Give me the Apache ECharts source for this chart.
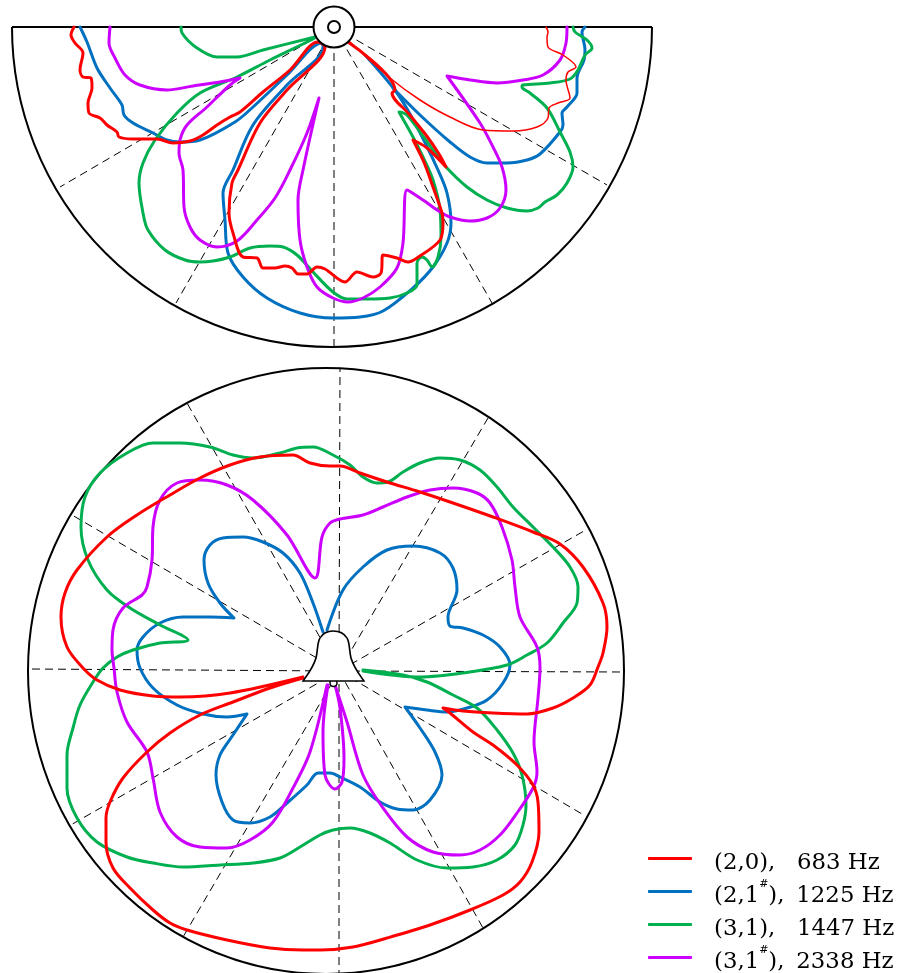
<!DOCTYPE html>
<html><head><meta charset="utf-8">
<style>html,body{margin:0;padding:0;background:#fff}#c{width:900px;height:973px}</style>
<script src="https://cdn.jsdelivr.net/npm/echarts@6/dist/echarts.min.js"></script>
</head><body><div id="c"></div>
<script>
// Pattern vectors as [across, down] components from each plot's origin
const top20 = [[-260,0],[-263,8],[-259,16],[-251,26],[-254,43],[-251,50],[-243,51],[-242,61],[-246,76],[-245,86],[-234,91],[-227,98],[-217,105],[-215,110],[-201,112],[-177,112],[-161,116],[-144,114],[-131,108],[-117,98],[-104,90],[-94,85],[-71,65],[-44,43],[-16,15],[-9,20],[-47,63],[-74,96],[-96,143],[-102,156],[-105,186],[-101,206],[-91,230],[-77,231],[-71,241],[-59,241],[-49,239],[-42,241],[-36,247],[-27,247],[-17,240],[-9,242],[11,255],[23,245],[39,250],[47,246],[49,228],[63,231],[74,235],[83,231],[106,213],[109,196],[108,186],[99,160],[93,143],[89,133],[79,113],[93,121],[112,140],[105,127],[92,108],[75,87],[58,66],[61,63],[14,15]];
const top20Thin = [[16,15],[56,51],[86,73],[116,90],[149,103],[179,104],[203,100],[214,91],[215,81],[224,76],[236,71],[232,53],[234,45],[242,40],[229,28],[214,20],[213,10],[214,5],[212,0]];
const top21 = [[-254,0],[-247,15],[-237,41],[-224,61],[-212,78],[-210,88],[-201,96],[-181,106],[-167,113],[-154,115],[-134,113],[-99,95],[-81,80],[-47,48],[-12,16],[-11,20],[-47,58],[-81,98],[-101,143],[-111,166],[-109,193],[-106,226],[-91,250],[-67,271],[-34,286],[-1,291],[26,290],[49,284],[79,261],[99,240],[113,216],[117,196],[113,166],[104,143],[83,100],[63,66],[31,28]];
const top21Right = [[59,61],[86,88],[116,115],[136,130],[153,136],[173,136],[193,133],[206,127],[226,105],[229,98],[228,86],[233,80],[243,66],[243,51],[250,33],[251,23],[248,5],[251,0]];
const top31 = [[-153,0],[-152,6],[-137,21],[-117,30],[-97,30],[-71,23],[-19,10],[-21,12],[-64,33],[-97,50],[-134,66],[-157,86],[-179,113],[-191,136],[-195,156],[-191,186],[-186,203],[-169,223],[-149,233],[-134,235],[-121,234],[-104,230],[-84,221],[-64,219],[-51,220],[-37,228],[-21,245],[-1,265],[13,272],[33,272],[56,271],[73,266],[83,258],[83,236],[88,230],[93,233],[98,240],[104,230],[107,210],[106,183],[99,153],[89,130],[79,110],[65,85],[73,88],[99,123],[113,141],[133,160],[153,173],[173,181],[193,184],[204,181],[211,175],[223,168],[233,156],[239,140],[236,125],[226,105],[213,81],[196,66],[188,60],[189,58],[216,56],[236,52],[244,43],[251,28],[258,21],[253,13],[241,5],[239,0]];
const top31s = [[-224,0],[-225,16],[-219,31],[-209,48],[-194,58],[-167,63],[-141,59],[-114,55],[-94,51],[-104,58],[-127,80],[-147,98],[-154,113],[-155,126],[-151,143],[-150,180],[-144,200],[-134,213],[-117,220],[-97,214],[-77,193],[-59,171],[-44,143],[-27,106],[-15,71],[-31,143],[-36,173],[-34,213],[-27,240],[-17,260],[-1,271],[14,275],[29,271],[46,260],[63,241],[69,216],[73,163],[89,173],[103,183],[116,190],[136,194],[153,191],[166,181],[172,163],[168,140],[159,120],[146,96],[113,49],[136,53],[163,56],[189,53],[209,48],[226,33],[232,16],[233,0]];
const bottom20 = [[-36,6],[-109,22],[-159,26],[-186,25],[-219,19],[-242,9],[-256,-3],[-272,-24],[-278,-54],[-274,-78],[-262,-101],[-232,-134],[-202,-156],[-169,-176],[-139,-193],[-109,-206],[-79,-214],[-46,-216],[-29,-208],[-9,-205],[1,-205],[21,-198],[48,-189],[81,-179],[114,-168],[154,-154],[194,-139],[221,-127],[244,-104],[264,-68],[268,-44],[264,-18],[259,-4],[251,14],[234,27],[214,37],[188,43],[154,42],[124,40],[104,37],[111,42],[134,61],[154,74],[178,94],[194,114],[199,131],[200,161],[193,191],[181,211],[164,224],[131,239],[91,254],[48,267],[14,276],[-19,279],[-36,279],[-69,277],[-112,269],[-152,259],[-169,252],[-186,239],[-209,217],[-226,197],[-233,171],[-233,147],[-229,131],[-216,107],[-192,81],[-169,62],[-139,44],[-106,31],[-69,17],[-36,7]];
const bottom21 = [[-16,-39],[-26,-68],[-39,-98],[-56,-118],[-76,-129],[-96,-134],[-116,-133],[-129,-126],[-135,-111],[-131,-88],[-119,-68],[-105,-53],[-129,-54],[-156,-54],[-179,-48],[-196,-34],[-202,-21],[-199,-3],[-186,17],[-162,34],[-136,43],[-112,46],[-92,43],[-106,64],[-119,84],[-123,104],[-117,131],[-106,149],[-89,152],[-69,146],[-52,132],[-32,114],[-21,102],[-9,102],[1,106],[21,116],[41,131],[58,138],[74,139],[91,129],[103,104],[96,81],[81,57],[66,36],[88,39],[108,41],[128,37],[148,29],[164,12],[171,-6],[161,-24],[144,-36],[124,-43],[111,-45],[109,-54],[118,-81],[114,-103],[101,-118],[74,-125],[48,-121],[24,-104],[4,-81],[-12,-41]];
const bottom31 = [[24,0],[81,6],[124,2],[168,-6],[188,-16],[208,-28],[224,-48],[238,-68],[239,-84],[231,-104],[214,-124],[194,-144],[174,-164],[158,-184],[141,-201],[121,-211],[101,-213],[81,-208],[64,-199],[49,-189],[38,-188],[24,-194],[11,-206],[-6,-216],[-26,-224],[-42,-223],[-59,-218],[-86,-213],[-106,-216],[-129,-224],[-159,-228],[-186,-228],[-212,-218],[-239,-198],[-254,-174],[-258,-144],[-251,-111],[-232,-81],[-209,-63],[-179,-46],[-151,-31],[-179,-28],[-206,-21],[-222,-14],[-236,-3],[-246,11],[-259,34],[-266,57],[-272,84],[-272,117],[-262,147],[-242,171],[-212,186],[-186,192],[-156,196],[-119,194],[-86,192],[-59,187],[-39,176],[-19,164],[-6,159],[11,157],[31,162],[51,172],[78,189],[108,197],[134,196],[158,189],[176,174],[184,154],[187,134],[183,104],[174,82],[158,59],[138,37],[114,24],[88,11],[64,4],[24,-1]];
const bottom31s = [[-11,14],[-16,61],[-14,104],[-4,118],[3,111],[5,87],[1,37],[-4,14],[8,51],[24,104],[44,137],[68,166],[94,181],[121,184],[141,179],[161,164],[178,142],[194,117],[198,101],[195,71],[199,27],[201,-3],[198,-24],[181,-54],[176,-84],[173,-111],[163,-144],[151,-168],[138,-178],[114,-183],[91,-181],[68,-174],[44,-164],[24,-156],[1,-152],[-9,-148],[-17,-134],[-24,-93],[-52,-136],[-86,-171],[-112,-186],[-139,-191],[-162,-188],[-179,-171],[-186,-144],[-187,-111],[-192,-84],[-197,-76],[-216,-63],[-226,-41],[-227,-21],[-225,-3],[-222,21],[-212,51],[-192,81],[-186,107],[-179,141],[-162,166],[-139,176],[-112,177],[-89,169],[-66,151],[-46,117],[-29,81],[-12,14]];
const topSpokes = [[273,158],[158,276],[0,319],[-158,276],[-274,160]];
const bottomSpokes = [[283,1],[243,143],[144,257],[0,302],[-156,266],[-270,155],[-311,-2],[-267,-156],[-152,-268],[1,-303],[149,-253],[245,-140]];

const modes = ['(2,0), 683 Hz','(2,1#), 1225 Hz','(3,1), 1447 Hz','(3,1#), 2338 Hz'];
const modeLabels = ['{g|}{a|(2,0),}{n|683 Hz}','{g|}{p|(2,1}{s|#}{q|),}{n|1225 Hz}','{g|}{a|(3,1),}{n|1447 Hz}','{g|}{p|(3,1}{s|#}{q|),}{n|2338 Hz}'];
const colors = ['#FF0000','#0070C0','#00B050','#CC00FF'];

const toPolar = ([a, d]) => {
  let t = Math.atan2(d, a) * 180 / Math.PI;
  if (t < 0) t += 360;
  return [Math.hypot(a, d), t];
};
const curve = (mode, points, polarIndex, width) => ({
  type: 'line', name: modes[mode], coordinateSystem: 'polar', polarIndex,
  data: points.map(toPolar), smooth: 0.33, showSymbol: false, symbol: 'none', clip: false,
  lineStyle: { color: colors[mode], width: width || 3, cap: 'round', join: 'round' },
  itemStyle: { color: colors[mode] }, silent: true, z: 3, animation: false
});
const spokes = (ends, polarIndex) => ends.map(e => ({
  type: 'line', coordinateSystem: 'polar', polarIndex,
  data: [[0, toPolar(e)[1]], toPolar(e)], smooth: false, showSymbol: false, symbol: 'none', clip: false,
  lineStyle: { color: '#000', width: 1, type: [8, 5] }, silent: true, z: 2, animation: false
}));
const marker = (polarIndex, symbol, size, offset, z, width) => ({
  type: 'scatter', coordinateSystem: 'polar', polarIndex, data: [[0, 0]], symbol, symbolSize: size,
  symbolOffset: offset, clip: false, silent: true, z, animation: false,
  itemStyle: { color: '#fff', borderColor: '#000', borderWidth: width, opacity: 1 }
});
const bellPath = 'path://M303 681 C308 674 313 668 316 658 C318 650 317 643 320 638 C323 633 327 631 333 631 C340 631 344 633 347 638 C350 643 349 650 351 658 C354 668 359 674 364 681 Z';
const serif = 'DejaVu Serif';
const tok = o => Object.assign({ fontSize: 22.8, fontFamily: serif, color: '#000', lineHeight: 26, verticalAlign: 'bottom' }, o);

const chart = echarts.init(document.getElementById('c'), null, { renderer: 'canvas' });
const hiddenAngle = i => ({ polarIndex: i, type: 'value', min: 0, max: 360, startAngle: 0, clockwise: true, show: false });
const hiddenRadius = i => ({ polarIndex: i, type: 'value', min: 0, max: 320, show: false });
chart.setOption({
  animation: false,
  backgroundColor: '#fff',
  polar: [{ center: [334, 27], radius: 320 }, { center: [339, 671], radius: 320 }],
  angleAxis: [hiddenAngle(0), hiddenAngle(1)],
  radiusAxis: [hiddenRadius(0), hiddenRadius(1)],
  legend: {
    orient: 'vertical', left: 648, top: 842, height: 200, padding: 0, itemGap: 0, itemWidth: 44, itemHeight: 3,
    icon: 'roundRect', selectedMode: false, data: modes,
    formatter: n => modeLabels[modes.indexOf(n)],
    textStyle: {
      color: '#000', fontFamily: serif, fontSize: 22.8,
      rich: {
        g: { width: 17, lineHeight: 33, height: 33 },
        a: tok({ width: 83 }),
        p: tok({}),
        s: { fontSize: 11, fontFamily: serif, color: '#000', lineHeight: 33, verticalAlign: 'top', padding: [4, 0, 0, 0] },
        q: tok({ width: 28 }),
        n: tok({})
      }
    }
  },
  graphic: [
    { type: 'arc', silent: true, z: 1, shape: { cx: 332, cy: 27, r: 320, startAngle: 0, endAngle: Math.PI, clockwise: true }, style: { stroke: '#000', lineWidth: 2, fill: 'none' } },
    { type: 'line', silent: true, z: 1, shape: { x1: 12, y1: 27, x2: 652, y2: 27 }, style: { stroke: '#000', lineWidth: 2 } },
    { type: 'circle', silent: true, z: 1, x: 326, y: 671, scaleY: 303 / 298, shape: { cx: 0, cy: 0, r: 298 }, style: { stroke: '#000', lineWidth: 2, fill: 'none' } }
  ],
  series: [
    ...spokes(topSpokes, 0), ...spokes(bottomSpokes, 1),
    curve(1, top21, 0), curve(1, top21Right, 0), curve(2, top31, 0), curve(3, top31s, 0), curve(0, top20, 0), curve(0, top20Thin, 0, 1.5),
    curve(1, bottom21, 1), curve(2, bottom31, 1), curve(3, bottom31s, 1), curve(0, bottom20, 1),
    marker(0, 'circle', 41, [0, 0], 6, 2), marker(0, 'circle', 12, [0, 0], 7, 2),
    marker(1, 'circle', 7, [-5.5, 12], 5, 1.5), marker(1, bellPath, [61, 50], [-5.5, -15], 6, 1.5)
  ]
});
</script></body></html>
